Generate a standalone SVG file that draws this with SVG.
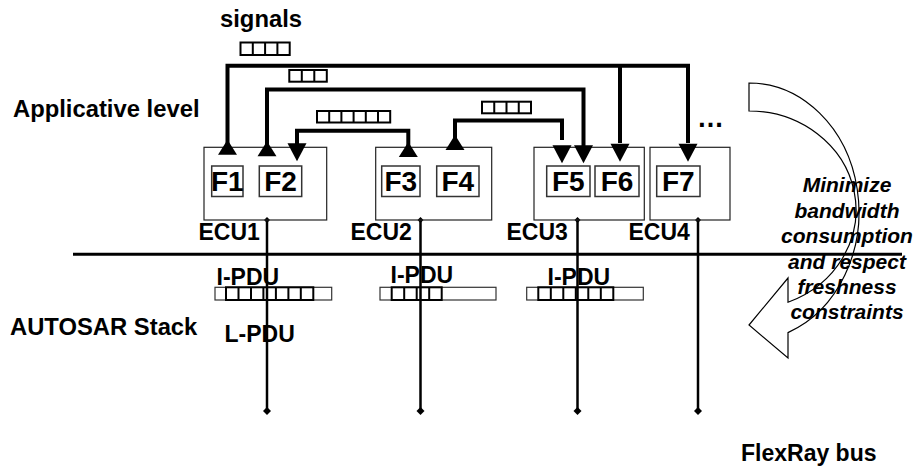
<svg xmlns="http://www.w3.org/2000/svg" xmlns:xlink="http://www.w3.org/1999/xlink" width="918" height="468" viewBox="0 0 918 468">
<style>
  .lbl{font-family:"Liberation Sans",Arial,sans-serif;font-weight:bold;font-size:23px;fill:#000}
  .big-lbl{font-size:23.8px}
  .flbl{font-family:"Liberation Sans",Arial,sans-serif;font-weight:bold;font-size:28px;fill:#000;text-anchor:middle}
  .note{font-family:"Liberation Sans",Arial,sans-serif;font-weight:bold;font-style:italic;font-size:21px;fill:#000;text-anchor:middle}
  .ecu{fill:none;stroke:#222;stroke-width:1.2}
  .fbox{fill:none;stroke:#333;stroke-width:1.5}
  .sig{fill:none;stroke:#000;stroke-width:2}
  .pduo{fill:none;stroke:#333;stroke-width:1.2}
  .conn{fill:none;stroke:#000;stroke-width:4}
  .bus{fill:none;stroke:#000;stroke-width:2.5}
  .sep{fill:none;stroke:#000;stroke-width:3}
  .big{fill:none;stroke:#000;stroke-width:1.2}
</style>
<defs>
  <polygon id="ad" points="-9.5,-18 9.5,-18 0,0" fill="#000"/>
  <polygon id="au" points="-9.5,15 9.5,15 0,0" fill="#000"/>
  <polygon id="dm" points="0,-4 4,0 0,4 -4,0" fill="#000"/>
  <polygon id="dms" points="0,-3 3,0 0,3 -3,0" fill="#000"/>
</defs>

<g id="labels">
  <text class="lbl big-lbl" x="220" y="27">signals</text>
  <text class="lbl big-lbl" x="13" y="117">Applicative level</text>
  <text class="lbl big-lbl" x="10" y="335">AUTOSAR Stack</text>
  <text class="lbl" x="741" y="461">FlexRay bus</text>
  <text class="lbl" x="697" y="127" style="font-size:27px">…</text>
</g>

<g id="separator">
  <line class="sep" x1="73" y1="254.3" x2="902" y2="254.3"/>
</g>

<g id="bus">
  <line class="bus" x1="267" y1="220" x2="267" y2="411"/>
  <line class="bus" x1="420.5" y1="220" x2="420.5" y2="411"/>
  <line class="bus" x1="577.5" y1="220" x2="577.5" y2="411"/>
  <line class="bus" x1="698" y1="220" x2="698" y2="411"/>
  <use xlink:href="#dms" x="267" y="220"/>
  <use xlink:href="#dms" x="420.5" y="220"/>
  <use xlink:href="#dms" x="577.5" y="220"/>
  <use xlink:href="#dms" x="698" y="220"/>
  <use xlink:href="#dm" x="267" y="411"/>
  <use xlink:href="#dm" x="420.5" y="411"/>
  <use xlink:href="#dm" x="577.5" y="411"/>
  <use xlink:href="#dm" x="698" y="411"/>
</g>

<g id="ecu1">
  <rect class="ecu" x="204" y="147.3" width="122.7" height="72.7"/>
  <rect class="fbox" x="211.7" y="166" width="31.3" height="30.5"/>
  <text class="flbl" x="227.3" y="191.3">F1</text>
  <rect class="fbox" x="259.3" y="166" width="42.4" height="30.5"/>
  <text class="flbl" x="280.5" y="191.3">F2</text>
  <text class="lbl" x="198.5" y="240">ECU1</text>
</g>
<g id="ecu2">
  <rect class="ecu" x="375.7" y="147.3" width="116" height="72.7"/>
  <rect class="fbox" x="381.7" y="166" width="38.3" height="30.5"/>
  <text class="flbl" x="400.8" y="191.3">F3</text>
  <rect class="fbox" x="436.7" y="166" width="42.3" height="30.5"/>
  <text class="flbl" x="457.8" y="191.3">F4</text>
  <text class="lbl" x="350.5" y="240">ECU2</text>
</g>
<g id="ecu3">
  <rect class="ecu" x="534" y="147.3" width="110.3" height="72.7"/>
  <rect class="fbox" x="546.7" y="166" width="43.3" height="30.5"/>
  <text class="flbl" x="568.3" y="191.3">F5</text>
  <rect class="fbox" x="595" y="166" width="44" height="30.5"/>
  <text class="flbl" x="617" y="191.3">F6</text>
  <text class="lbl" x="506.5" y="240">ECU3</text>
</g>
<g id="ecu4">
  <rect class="ecu" x="650" y="147.3" width="80" height="72.7"/>
  <rect class="fbox" x="656.7" y="166" width="43.3" height="30.5"/>
  <text class="flbl" x="678.3" y="191.3">F7</text>
  <text class="lbl" x="628.5" y="240">ECU4</text>
</g>

<g id="signals-1">
  <rect class="sig" x="240.5" y="42.5" width="49.2" height="12.5"/>
  <path class="sig" d="M252.8,42.5V55M265.1,42.5V55M277.4,42.5V55"/>
</g>
<g id="signals-2">
  <rect class="sig" x="289.3" y="70" width="37.5" height="11.7"/>
  <path class="sig" d="M301.8,70V81.7M314.3,70V81.7"/>
</g>
<g id="signals-3">
  <rect class="sig" x="317" y="111" width="73.2" height="11.5"/>
  <path class="sig" d="M329.2,111V122.5M341.4,111V122.5M353.6,111V122.5M365.8,111V122.5M378,111V122.5"/>
</g>
<g id="signals-4">
  <rect class="sig" x="482" y="101.7" width="49" height="11.6"/>
  <path class="sig" d="M494.25,101.7V113.3M506.5,101.7V113.3M518.75,101.7V113.3"/>
</g>

<g id="pdu1">
  <text class="lbl" x="216.5" y="285">I-PDU</text>
  <rect class="pduo" x="215" y="287.3" width="116.7" height="12.7"/>
  <rect class="sig" x="226" y="287.3" width="87.3" height="12.7"/>
  <path class="sig" d="M238.5,287.3V300M251,287.3V300M263.4,287.3V300M275.9,287.3V300M288.4,287.3V300M300.8,287.3V300"/>
  <text class="lbl" x="224.5" y="342">L-PDU</text>
</g>
<g id="pdu2">
  <text class="lbl" x="390.5" y="283">I-PDU</text>
  <rect class="pduo" x="380" y="287.3" width="116" height="12.7"/>
  <rect class="sig" x="391.7" y="287.3" width="50" height="12.7"/>
  <path class="sig" d="M404.2,287.3V300M416.7,287.3V300M429.2,287.3V300"/>
</g>
<g id="pdu3">
  <text class="lbl" x="547.5" y="285">I-PDU</text>
  <rect class="pduo" x="526.7" y="287.3" width="116.6" height="12.7"/>
  <rect class="sig" x="538.3" y="287.3" width="75" height="12.7"/>
  <path class="sig" d="M550.8,287.3V300M563.3,287.3V300M575.8,287.3V300M588.3,287.3V300M600.8,287.3V300"/>
</g>

<g id="connectors">
  <path class="conn" d="M227.5,154V65.7H688V143M620,65.7V143"/>
  <path class="conn" d="M267,156V89.5H583.5V150"/>
  <path class="conn" d="M297,144V130.7H408.3V156"/>
  <path class="conn" d="M455,150V120.5H562V140"/>
  <use xlink:href="#au" x="227.5" y="139.7"/>
  <use xlink:href="#au" x="267" y="141.3"/>
  <use xlink:href="#ad" x="297" y="161.3"/>
  <use xlink:href="#au" x="408.3" y="142"/>
  <use xlink:href="#au" x="455" y="135"/>
  <use xlink:href="#ad" x="562" y="163.3"/>
  <use xlink:href="#ad" x="583.5" y="163.3"/>
  <use xlink:href="#ad" x="620" y="161.7"/>
  <use xlink:href="#ad" x="688" y="161.7"/>
</g>

<g id="goal">
  <path class="big" d="M749,83 A110,129 0 0 1 788,332.6 L788,358 L749,325 L788,278 L788,302.2 A107,99 0 0 0 749,111 Z"/>
  <text class="note" x="847" y="192">Minimize</text>
  <text class="note" x="847" y="217.5">bandwidth</text>
  <text class="note" x="847" y="243">consumption</text>
  <text class="note" x="847" y="268.5">and respect</text>
  <text class="note" x="847" y="294">freshness</text>
  <text class="note" x="847" y="319">constraints</text>
</g>
</svg>
